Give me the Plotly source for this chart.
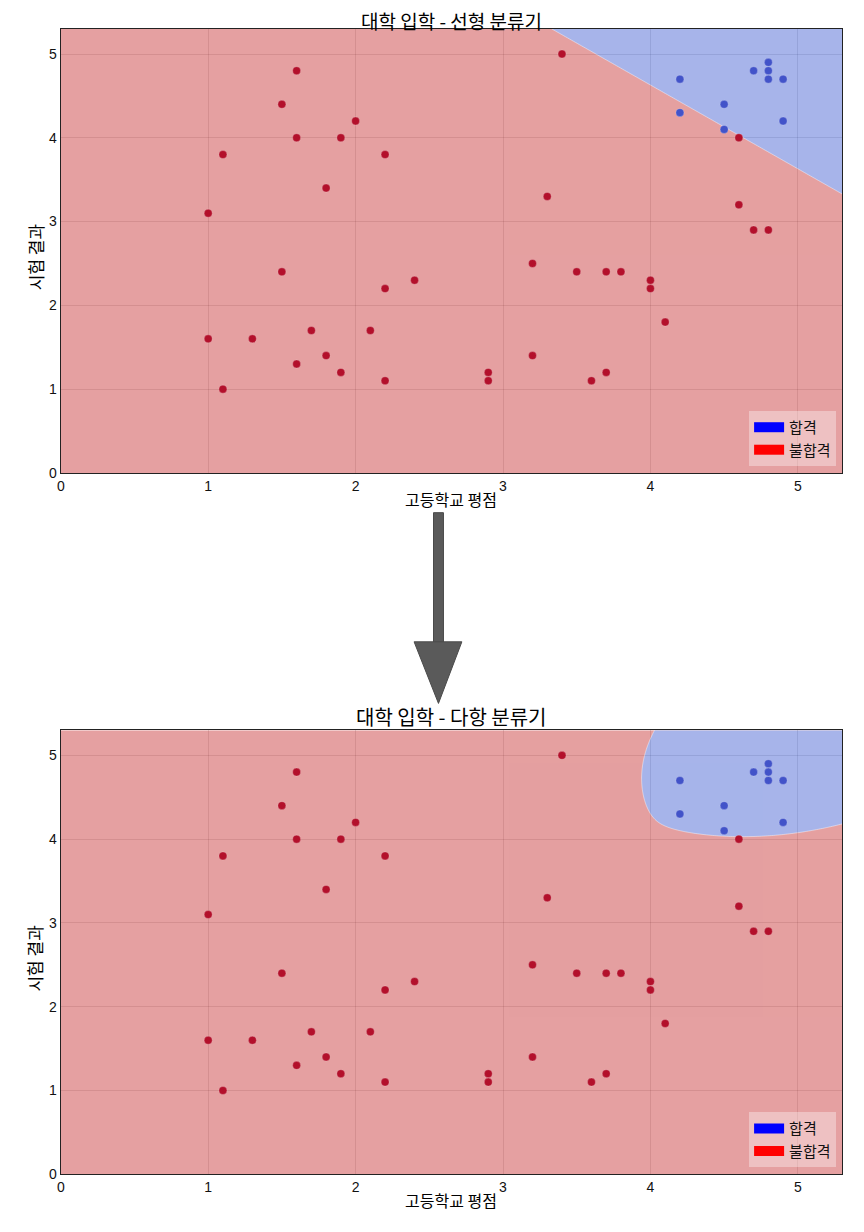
import numpy as np
import plotly.graph_objects as go

# 합격 (admitted) students
pass_gpa = [4.8, 4.7, 4.8, 4.2, 4.8, 4.9, 4.5, 4.2, 4.9, 4.5]
pass_exam = [4.9, 4.8, 4.8, 4.7, 4.7, 4.7, 4.4, 4.3, 4.2, 4.1]

# 불합격 (rejected) students
fail_gpa = [3.4, 1.6, 1.5, 2.0, 1.6, 1.9, 4.6, 1.1, 2.2, 1.8, 3.3, 4.6, 1.0,
            4.7, 4.8, 3.2, 1.5, 3.5, 3.7, 3.8, 2.4, 4.0, 2.2, 4.0, 4.1, 1.7,
            2.1, 1.0, 1.3, 1.8, 3.2, 1.6, 1.9, 2.9, 3.7, 2.2, 2.9, 3.6, 1.1]
fail_exam = [5.0, 4.8, 4.4, 4.2, 4.0, 4.0, 4.0, 3.8, 3.8, 3.4, 3.3, 3.2, 3.1,
             2.9, 2.9, 2.5, 2.4, 2.4, 2.4, 2.4, 2.3, 2.3, 2.2, 2.2, 1.8, 1.7,
             1.7, 1.6, 1.6, 1.4, 1.4, 1.3, 1.2, 1.2, 1.2, 1.1, 1.1, 1.1, 1.0]

tick_vals = [0, 1, 2, 3, 4, 5]
axis_max = 5.3

# linear classifier: w1*x + w2*y + b
lin_w = [1.0, 1.0]
lin_b = -8.63

# polynomial classifier boundary
left_x0, left_y0, left_k = 3.93, 4.69, 0.25     # left edge  x = x0 + k*(y-y0)^2
bot_x0, bot_y0, bot_k = 4.60, 4.02, 0.32        # bottom edge y = y0 + k*(x-x0)^2
corner_eps = 0.011

RED_BG = "#C8393A"
BLUE_BG = "#4763D4"
RED_PT = "#B3102B"
BLUE_PT = "#4253C9"
KR = "Noto Sans CJK KR"

gx = np.linspace(0, axis_max, 400)
gy = np.linspace(0, axis_max, 400)
X, Y = np.meshgrid(gx, gy)

z_lin = lin_w[0] * X + lin_w[1] * Y + lin_b

p = X - (left_x0 + left_k * (Y - left_y0) ** 2)
q = Y - (bot_y0 + bot_k * (X - bot_x0) ** 2)
z_poly = p + q - np.sqrt(p ** 2 + q ** 2 + corner_eps)

fig = go.Figure()

panels = [("x", "y", z_lin, "legend"), ("x2", "y2", z_poly, "legend2")]
for xa, ya, z, lg in panels:
    fig.add_trace(go.Contour(
        x=gx, y=gy, z=np.clip(z, -1, 1), xaxis=xa, yaxis=ya,
        zmin=-1, zmax=1,
        contours=dict(start=0, end=0, size=1, coloring="fill"),
        colorscale=[[0, RED_BG], [0.5, RED_BG], [0.5, BLUE_BG], [1, BLUE_BG]],
        line=dict(color="rgba(255,255,255,0.55)", width=0.8), opacity=0.48,
        showscale=False, hoverinfo="skip", showlegend=False))
    fig.add_trace(go.Scatter(
        x=fail_gpa, y=fail_exam, xaxis=xa, yaxis=ya, mode="markers",
        marker=dict(color=RED_PT, size=8, line=dict(color="rgba(255,255,255,0.35)", width=0.6)),
        showlegend=False))
    fig.add_trace(go.Scatter(
        x=pass_gpa, y=pass_exam, xaxis=xa, yaxis=ya, mode="markers",
        marker=dict(color=BLUE_PT, size=8, line=dict(color="rgba(255,255,255,0.35)", width=0.6)),
        showlegend=False))
    # legend patches
    fig.add_trace(go.Scatter(x=[None], y=[None], xaxis=xa, yaxis=ya, mode="lines",
                             line=dict(color="#0000FF", width=12), name="합격", legend=lg))
    fig.add_trace(go.Scatter(x=[None], y=[None], xaxis=xa, yaxis=ya, mode="lines",
                             line=dict(color="#FF0000", width=12), name="불합격", legend=lg))

# the page puts an 8px margin round the plot, so work in page pixels minus 8
OFF = 8
W = 864 - 2 * OFF
H = 1232 - 2 * OFF


def px(v):
    return (v - OFF) / W


def py(v):
    return 1 - (v - OFF) / H


xdom = [px(57), px(842)]
axis_style = dict(range=[0, axis_max], tickvals=tick_vals, showgrid=True,
                  gridcolor="rgba(0,0,0,0.13)", gridwidth=1, zeroline=False,
                  showline=True, linecolor="#222", linewidth=1.2, mirror=True,
                  ticks="", tickfont=dict(family="Liberation Sans", size=14, color="#111"))

legend_style = dict(xanchor="right", yanchor="bottom", bgcolor="rgba(255,255,255,0.35)",
                    font=dict(family=KR, size=15, color="#111"), tracegroupgap=0,
                    itemclick=False)

fig.update_layout(
    width=W, height=H, margin=dict(l=0, r=0, t=0, b=0),
    paper_bgcolor="white", plot_bgcolor="white",
    xaxis=dict(domain=xdom, anchor="y", **axis_style),
    yaxis=dict(domain=[py(476), py(29)], anchor="x", **axis_style),
    xaxis2=dict(domain=xdom, anchor="y2", **axis_style),
    yaxis2=dict(domain=[py(1182), py(735)], anchor="x2", **axis_style),
    legend=dict(x=px(836), y=py(469), **legend_style),
    legend2=dict(x=px(836), y=py(1175), **legend_style),
)

# titles and axis labels
cx = (xdom[0] + xdom[1]) / 2
labels = [
    ("대학 입학 - 선형 분류기", cx, py(20.5), 19, 0),
    ("고등학교 평점", cx, py(502), 16, 0),
    ("시험 결과", px(31), py(258), 17, -90),
    ("대학 입학 - 다항 분류기", cx, py(721), 20, 0),
    ("고등학교 평점", cx, py(1208), 16, 0),
    ("시험 결과", px(31), py(964), 17, -90),
]
for txt, ax_x, ax_y, size, ang in labels:
    fig.add_annotation(text=txt, x=ax_x, y=ax_y, xref="paper", yref="paper",
                       showarrow=False, textangle=ang, xanchor="center", yanchor="middle",
                       borderpad=0, font=dict(family=KR, size=size, color="#000"))

# big arrow between panels
fig.add_shape(type="rect", xref="paper", yref="paper",
              x0=px(431.5), x1=px(441.5), y0=py(648), y1=py(516),
              fillcolor="#5A5A5A", line=dict(color="#4A4A4A", width=1))
fig.add_shape(type="path", xref="paper", yref="paper",
              path=f"M {px(412)} {py(646)} L {px(460)} {py(646)} L {px(436.5)} {py(708)} Z",
              fillcolor="#5A5A5A", line=dict(color="#4A4A4A", width=1))

fig.write_html("out.html")
